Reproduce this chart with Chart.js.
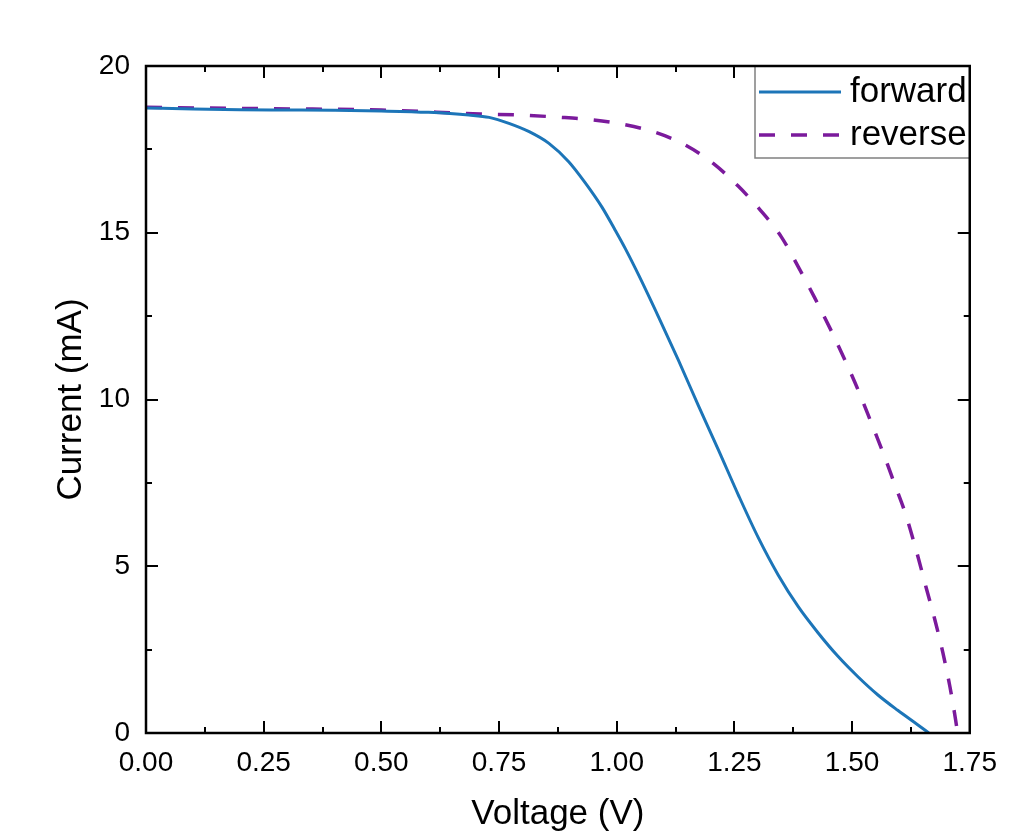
<!DOCTYPE html>
<html>
<head>
<meta charset="utf-8">
<script src="https://cdn.jsdelivr.net/npm/chart.js@4.4.0/dist/chart.umd.min.js"></script>
<style>
  html, body { margin: 0; padding: 0; background: #fff; }
  canvas { display: block; }
</style>
</head>
<body>
<canvas id="c" width="1010" height="832"></canvas>
<script>
// ---- Data ----
const forwardV = [0, 0.1, 0.2, 0.3, 0.4, 0.5, 0.6, 0.686, 0.729, 0.771, 0.814, 0.856, 0.898, 0.934, 0.969, 0.997, 1.018, 1.047, 1.089, 1.131, 1.174, 1.216, 1.258, 1.301, 1.343, 1.386, 1.428, 1.470, 1.513, 1.555, 1.597, 1.640, 1.663];
const forwardI = [18.74, 18.71, 18.69, 18.68, 18.67, 18.65, 18.61, 18.53, 18.46, 18.28, 18.03, 17.68, 17.13, 16.48, 15.76, 15.07, 14.53, 13.72, 12.47, 11.18, 9.80, 8.49, 7.15, 5.85, 4.74, 3.78, 3.00, 2.30, 1.68, 1.14, 0.68, 0.24, 0.0];

const reverseV = [0, 0.25, 0.5, 0.71, 0.80, 0.87, 0.94, 1.01, 1.08, 1.146, 1.205, 1.258, 1.305, 1.350, 1.386, 1.421, 1.453, 1.485, 1.513, 1.540, 1.566, 1.591, 1.614, 1.636, 1.657, 1.676, 1.693, 1.708, 1.720, 1.723];
const reverseI = [18.76, 18.72, 18.68, 18.56, 18.53, 18.47, 18.40, 18.26, 18.02, 17.63, 17.08, 16.40, 15.68, 14.87, 13.97, 13.04, 12.14, 11.18, 10.28, 9.33, 8.40, 7.44, 6.55, 5.49, 4.38, 3.39, 2.40, 1.38, 0.39, 0.10];

const seriesLabels = ['forward', 'reverse'];
const xTickLabels = ['0.00', '0.25', '0.50', '0.75', '1.00', '1.25', '1.50', '1.75'];
const yTickLabels = ['0', '5', '10', '15', '20'];
const xTitle = 'Voltage (V)';
const yTitle = 'Current (mA)';

// ---- Build ----
const toPts = (xs, ys) => xs.map((x, i) => ({ x: x, y: ys[i] }));
const FONT = 'Liberation Sans, Arial, Helvetica, sans-serif';

const frameTicks = {
  id: 'frameTicks',
  afterDatasetsDraw(chart) {
    const { ctx, chartArea: a, scales } = chart;
    const xs = scales.x, ys = scales.y;
    ctx.save();
    ctx.strokeStyle = '#000';
    ctx.lineWidth = 2;
    ctx.beginPath();
    for (let k = 0; k <= 14; k++) {
      const px = Math.round(xs.getPixelForValue(k * 0.125));
      const len = (k % 2 === 0) ? 12 : 6;
      ctx.moveTo(px, a.bottom); ctx.lineTo(px, a.bottom - len);
      ctx.moveTo(px, a.top); ctx.lineTo(px, a.top + len);
    }
    for (let k = 0; k <= 8; k++) {
      const py = Math.round(ys.getPixelForValue(k * 2.5));
      const len = (k % 2 === 0) ? 12 : 6;
      ctx.moveTo(a.left, py); ctx.lineTo(a.left + len, py);
      ctx.moveTo(a.right, py); ctx.lineTo(a.right - len, py);
    }
    ctx.stroke();

    // legend box
    const bx = 755, by = a.top, bw = a.right - 755, bh = 92;
    ctx.fillStyle = '#fff';
    ctx.fillRect(bx, by, bw, bh);
    ctx.lineWidth = 1.5;
    ctx.strokeStyle = '#808080';
    ctx.beginPath();
    ctx.moveTo(bx, by); ctx.lineTo(bx, by + bh); ctx.lineTo(a.right, by + bh);
    ctx.stroke();

    ctx.lineWidth = 2.5;
    ctx.strokeStyle = '#000';
    ctx.strokeRect(a.left, a.top, a.right - a.left, a.bottom - a.top);

    const rows = [92, 135];
    chart.data.datasets.forEach((ds, i) => {
      const y = rows[i];
      ctx.save();
      ctx.strokeStyle = ds.borderColor;
      ctx.lineWidth = ds.borderWidth;
      ctx.setLineDash(ds.borderDash || []);
      ctx.beginPath();
      ctx.moveTo(759, y); ctx.lineTo(841, y);
      ctx.stroke();
      ctx.restore();
      ctx.fillStyle = '#000';
      ctx.font = '35px ' + FONT;
      ctx.textBaseline = 'middle';
      ctx.textAlign = 'left';
      ctx.fillText(ds.label, 850, y);
    });
    ctx.restore();
  }
};

new Chart(document.getElementById('c'), {
  type: 'scatter',
  data: {
    datasets: [
      {
        label: seriesLabels[0],
        data: toPts(forwardV, forwardI),
        showLine: true,
        borderColor: '#1c75b8',
        borderWidth: 3,
        pointRadius: 0,
        cubicInterpolationMode: 'monotone',
        fill: false
      },
      {
        label: seriesLabels[1],
        data: toPts(reverseV, reverseI),
        showLine: true,
        borderColor: '#7b1a9c',
        borderWidth: 3.5,
        borderDash: [16, 16],
        pointRadius: 0,
        cubicInterpolationMode: 'monotone',
        fill: false
      }
    ]
  },
  options: {
    responsive: false,
    animation: false,
    devicePixelRatio: 1,
    layout: { padding: { top: 66, right: 38, left: 0, bottom: 0 } },
    plugins: { legend: { display: false }, tooltip: { enabled: false } },
    scales: {
      x: {
        type: 'linear',
        min: 0, max: 1.75,
        afterFit(s) { s.height = 99; },
        grid: { display: false, drawTicks: false },
        border: { display: false },
        ticks: {
          stepSize: 0.25,
          autoSkip: false,
          maxRotation: 0,
          padding: 13,
          color: '#000',
          font: { family: FONT, size: 28 },
          callback: (v) => {
            const i = Math.round(v / 0.25);
            return xTickLabels[i] !== undefined ? xTickLabels[i] : '';
          }
        },
        title: {
          display: true, text: xTitle, color: '#000',
          font: { family: FONT, size: 35 },
          padding: { top: 0, bottom: -3 }
        }
      },
      y: {
        type: 'linear',
        min: 0, max: 20,
        afterFit(s) { s.width = 146; },
        grid: { display: false, drawTicks: false },
        border: { display: false },
        ticks: {
          stepSize: 5,
          autoSkip: false,
          padding: 16,
          color: '#000',
          font: { family: FONT, size: 28 },
          callback: (v) => {
            const i = Math.round(v / 5);
            return yTickLabels[i] !== undefined ? yTickLabels[i] : '';
          }
        },
        title: {
          display: true, text: yTitle, color: '#000',
          font: { family: FONT, size: 35 },
          padding: { top: 50, bottom: 0 }
        }
      }
    }
  },
  plugins: [frameTicks]
});
</script>
</body>
</html>
